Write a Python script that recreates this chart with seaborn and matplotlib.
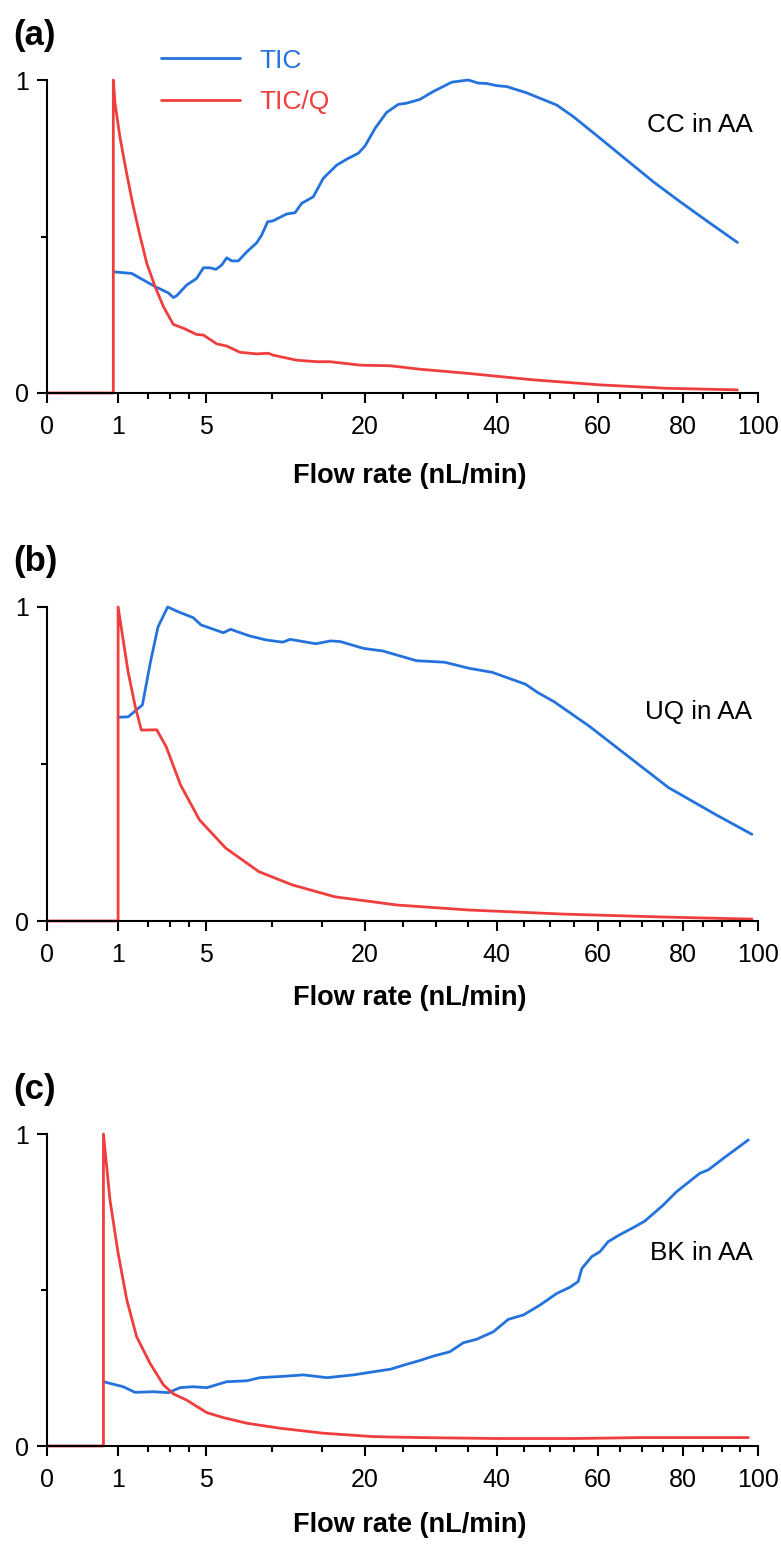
import numpy as np
import pandas as pd
import matplotlib
matplotlib.use("Agg")
import matplotlib.pyplot as plt
import seaborn as sns
from matplotlib.lines import Line2D

# ---------------- data ----------------
series_names = ["TIC", "TIC/Q"]
panel_labels = ["(a)", "(b)", "(c)"]
sample_names = ["CC in AA", "UQ in AA", "BK in AA"]
x_major_ticks = [0, 1, 5, 20, 40, 60, 80, 100]
x_minor_ticks = [2, 3, 4, 10, 15, 25, 30, 35, 45, 50, 55, 65, 70, 75, 85, 90, 95]
y_major_ticks = [0, 1]
y_minor_ticks = [0.5]
x_label = "Flow rate (nL/min)"

a_tic_x = [0.88, 1.42, 2.31, 2.91, 3.16, 3.33, 3.86, 4.43, 4.84, 5.26, 5.65, 6.04, 6.39, 6.75,
           7.24, 7.9, 8.7, 9.12, 9.63, 10.1, 11.37, 12.17, 12.83, 14.03, 15.1, 16.6, 17.77,
           19.18, 20.0, 21.3, 22.8, 24.4, 25.6, 27.5, 29.5, 32.4, 35.1, 36.8, 38.2, 40.0, 41.8,
           45.5, 51.4, 54.8, 60.5, 66.5, 72.7, 79.3, 86.1, 94.3]
a_tic_y = [0.387, 0.382, 0.34, 0.32, 0.305, 0.311, 0.345, 0.366, 0.40, 0.40, 0.395, 0.409, 0.432,
           0.422, 0.422, 0.451, 0.48, 0.505, 0.547, 0.55, 0.572, 0.576, 0.606, 0.627, 0.686,
           0.728, 0.747, 0.766, 0.789, 0.846, 0.896, 0.922, 0.926, 0.938, 0.963, 0.993, 1.0,
           0.99, 0.989, 0.982, 0.979, 0.959, 0.92, 0.883, 0.814, 0.744, 0.675, 0.611, 0.55, 0.481]
a_ticq_x = [0, 0.87, 0.87, 0.915, 1.05, 1.235, 1.45, 1.69, 1.97, 2.31, 2.68, 3.16, 3.68, 4.43,
            4.84, 5.7, 6.39, 7.37, 8.7, 9.69, 10.1, 12.3, 14.4, 15.84, 19.4, 23.3, 27.5, 34.9,
            46.8, 60.5, 76.0, 94.3]
a_ticq_y = [0, 0, 1.0, 0.926, 0.819, 0.712, 0.606, 0.51, 0.414, 0.34, 0.276, 0.219, 0.207, 0.187,
            0.185, 0.157, 0.15, 0.13, 0.125, 0.127, 0.121, 0.105, 0.10, 0.10, 0.089, 0.087, 0.076,
            0.063, 0.042, 0.026, 0.015, 0.01]

b_tic_x = [1.0, 1.30, 1.80, 2.12, 2.44, 2.88, 3.4, 4.23, 4.69, 6.15, 6.66, 8.11, 9.5, 11.0, 11.7,
           14.3, 15.9, 17.0, 19.85, 22.3, 27.0, 31.3, 35.2, 39.2, 45.3, 47.6, 50.9, 58.3, 67.4,
           76.4, 88.6, 98.3]
b_tic_y = [0.649, 0.65, 0.688, 0.826, 0.937, 1.0, 0.985, 0.966, 0.943, 0.918, 0.929, 0.908, 0.895,
           0.888, 0.897, 0.883, 0.892, 0.89, 0.868, 0.86, 0.829, 0.824, 0.805, 0.792, 0.754, 0.728,
           0.698, 0.619, 0.518, 0.425, 0.338, 0.276]
b_ticq_x = [0, 1.0, 1.0, 1.30, 1.54, 1.76, 2.38, 2.81, 3.53, 4.6, 6.32, 8.89, 11.9, 16.4, 24.2,
            35.2, 52.8, 74.1, 98.3]
b_ticq_y = [0, 0, 1.0, 0.794, 0.683, 0.608, 0.609, 0.555, 0.433, 0.322, 0.232, 0.157, 0.115, 0.077,
            0.051, 0.035, 0.022, 0.013, 0.006]

c_tic_x = [0.63, 1.15, 1.53, 2.24, 2.91, 3.5, 4.23, 5.05, 6.39, 7.9, 8.97, 11.37, 13.0, 15.5, 18.6,
           21.1, 23.3, 25.6, 27.5, 29.5, 32.1, 34.3, 36.5, 39.4, 42.1, 44.9, 48.1, 51.4, 54.1,
           55.8, 56.6, 58.7, 60.5, 62.3, 65.0, 68.0, 70.7, 75.1, 78.4, 84.3, 86.5, 90.5, 97.3]
c_tic_y = [0.206, 0.19, 0.172, 0.174, 0.171, 0.187, 0.19, 0.187, 0.206, 0.209, 0.219, 0.224, 0.228,
           0.219, 0.228, 0.238, 0.246, 0.262, 0.274, 0.288, 0.302, 0.331, 0.342, 0.366, 0.406,
           0.42, 0.452, 0.489, 0.509, 0.527, 0.569, 0.607, 0.623, 0.655, 0.678, 0.70, 0.721,
           0.772, 0.815, 0.874, 0.885, 0.922, 0.981]
c_ticq_x = [0, 0.63, 0.63, 0.785, 1.0, 1.26, 1.59, 2.1, 2.68, 3.16, 3.86, 5.05, 6.15, 7.9, 10.74,
            15.1, 21.1, 27.5, 40.0, 55.0, 70.0, 97.3]
c_ticq_y = [0, 0, 1.0, 0.788, 0.618, 0.468, 0.35, 0.265, 0.196, 0.167, 0.147, 0.107, 0.091, 0.073,
            0.057, 0.041, 0.03, 0.027, 0.024, 0.024, 0.027, 0.027]

# ---------------- style ----------------
sns.set_style("ticks")
plt.rcParams["font.family"] = ["Liberation Sans", "DejaVu Sans"]
BLUE = "#2473DC"
RED = "#F03E3E"
palette = {"TIC": BLUE, "TIC/Q": RED}

W, H = 781, 1546
fig = plt.figure(figsize=(W / 100, H / 100), dpi=100)

def make_df(tx, ty, qx, qy):
    return pd.concat([
        pd.DataFrame({"flow": tx, "value": ty, "series": "TIC"}),
        pd.DataFrame({"flow": qx, "value": qy, "series": "TIC/Q"}),
    ], ignore_index=True)

dfs = [make_df(a_tic_x, a_tic_y, a_ticq_x, a_ticq_y),
       make_df(b_tic_x, b_tic_y, b_ticq_x, b_ticq_y),
       make_df(c_tic_x, c_tic_y, c_ticq_x, c_ticq_y)]

# layout in pixels: (top, bottom) of each axes
boxes = [(80, 393), (607, 921), (1134, 1446)]
left_px, right_px = 47, 758
text_y = [0.856, 0.666, 0.619]
xlabel_y = [-0.265, -0.245, -0.253]

def fwd(x):
    return np.sqrt(np.clip(x, 0, None))

def inv(x):
    return np.square(x)

for i, df in enumerate(dfs):
    top, bot = boxes[i]
    ax = fig.add_axes([left_px / W, 1 - bot / H, (right_px - left_px) / W, (bot - top) / H])
    sns.lineplot(data=df, x="flow", y="value", hue="series", hue_order=series_names,
                 palette=palette, estimator=None, sort=False, legend=False,
                 linewidth=2.0, ax=ax, clip_on=False)
    ax.set_xscale("function", functions=(fwd, inv))
    ax.set_xlim(0, 100)
    ax.set_ylim(0, 1)
    ax.set_xticks(x_major_ticks)
    ax.set_xticklabels([str(t) for t in x_major_ticks])
    ax.set_xticks(x_minor_ticks, minor=True)
    ax.set_yticks(y_major_ticks)
    ax.set_yticklabels([str(t) for t in y_major_ticks])
    ax.set_yticks(y_minor_ticks, minor=True)
    ax.tick_params(axis="both", which="major", length=7, width=1.5, labelsize=18,
                   direction="out", color="black", labelcolor="black")
    ax.tick_params(axis="both", which="minor", length=4.3, width=1.5, direction="out",
                   color="black")
    ax.tick_params(axis="x", which="major", pad=9)
    ax.tick_params(axis="y", which="major", pad=6)
    for s in ["top", "right"]:
        ax.spines[s].set_visible(False)
    for s in ["left", "bottom"]:
        ax.spines[s].set_linewidth(1.5)
        ax.spines[s].set_color("black")
    ax.set_ylabel("")
    ax.set_xlabel(x_label, fontsize=19.5, fontweight="bold", color="black")
    ax.xaxis.set_label_coords(0.51, xlabel_y[i])
    ax.xaxis.label.set_va("center")
    ax.text(0.992, text_y[i], sample_names[i], transform=ax.transAxes, ha="right",
            va="center", fontsize=18.8, color="black")
    fig.text(13 / W, 1 - (top - 45) / H, panel_labels[i], fontsize=25, fontweight="bold",
             ha="left", va="center", color="black")
    if i == 0:
        handles = [Line2D([], [], color=BLUE, lw=2.0), Line2D([], [], color=RED, lw=2.0)]
        ax.legend(handles, series_names, loc="center left",
                  bbox_to_anchor=((161 - 47) / 711, (393 - 81.5) / 313),
                  frameon=False, fontsize=19, labelcolor="linecolor", handlelength=3.0,
                  handletextpad=0.72, labelspacing=0.68, borderpad=0, borderaxespad=0)

fig.savefig("out.png", dpi=100)
